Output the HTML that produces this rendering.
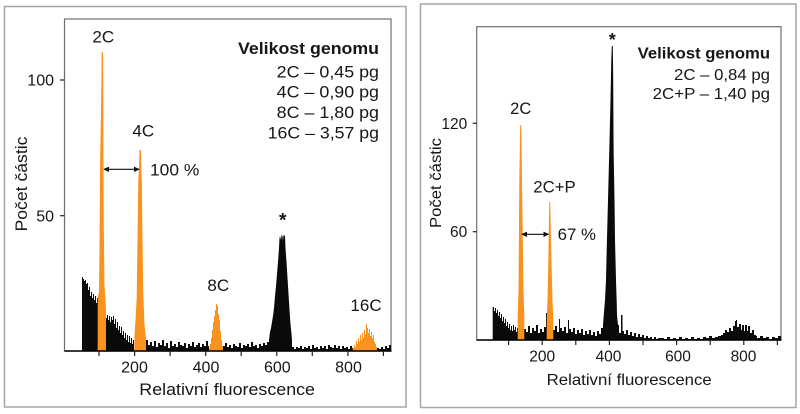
<!DOCTYPE html>
<html>
<head>
<meta charset="utf-8">
<style>
  html, body { margin: 0; padding: 0; background: #ffffff; }
  body { width: 800px; height: 414px; overflow: hidden; }
  svg { display: block; }
  text { font-family: "Liberation Sans", Arial, sans-serif; fill: #161616; }
</style>
</head>
<body>
<svg width="800" height="414" viewBox="0 0 800 414" xmlns="http://www.w3.org/2000/svg">
  <rect x="0" y="0" width="800" height="414" fill="#ffffff"/>

  <!-- ================= LEFT PANEL ================= -->
  <rect x="4.5" y="6.5" width="401.5" height="400.5" fill="none" stroke="#a6a6a6" stroke-width="1.5"/>
  <rect x="64.5" y="19" width="326.5" height="332" fill="none" stroke="#6e6e6e" stroke-width="1.2"/>

  <!-- black histogram -->
  <path fill="#0a0a0a" d="M82,351 V277 H83 V279 H84 V281 H85 V280 H86 V284 H87 V283 H88 V290 H89 V287 H90 V296 H91 V292 H92 V298 H93 V294 H94 V300 H95 V296 H96 V303 H97 V298 H98 V351 H106 V318 H107 V315 H108 V320 H109 V316 H110 V322 H111 V317 H112 V320 H113 V316 H114 V324 H115 V319 H116 V328 H117 V322 H118 V330 H119 V326 H120 V333 H121 V327 H122 V335 H123 V331 H124 V338 H125 V333 H126 V340 H127 V335 H128 V342 H129 V336 H130 V343 H131 V338 H132 V344 H133 V340 H134 V351 H146 V340 H148 V345 H150 V342 H152 V346 H154 V341 H156 V347 H158 V343 H160 V345 H162 V340 H164 V346 H166 V343 H168 V348 H170 V341 H172 V346 H174 V344 H176 V347 H178 V342 H180 V345 H182 V346 H184 V343 H186 V348 H188 V344 H190 V346 H192 V342 H194 V347 H196 V345 H198 V343 H200 V347 H202 V344 H204 V346 H206 V341 H208 V346 H209 V351 H223 V346 H225 V343 H227 V347 H229 V345 H231 V348 H233 V344 H235 V346 H237 V347 H239 V343 H241 V348 H243 V345 H245 V346 H247 V344 H249 V347 H251 V342 H253 V346 H255 V345 H257 V348 H259 V344 H261 V346 H263 V343 H265 V345 H267 V342 H269 V340 L270,332 L271,328 L272,322 L273,316 L274,308 L275,296 L276,286 L277,274 L278,262 L279,248 L279.5,238 L280,236 L281,240 L281.5,235 L282.5,236 L283,241 L283.5,235 L285,236 L285.5,248 L286.5,262 L287.5,278 L288.5,294 L289.5,310 L290.5,324 L291.5,334 L292,340 V347 H294 V349 H296 V347 H298 V348 H300 V346 H302 V349 H304 V347 H306 V348 H308 V346 H310 V349 H312 V345 H314 V348 H316 V347 H318 V349 H320 V346 H322 V348 H324 V346 H326 V349 H328 V345 H330 V347 H332 V348 H334 V345 H336 V348 H338 V346 H340 V349 H342 V346 H344 V348 H346 V347 H348 V349 H350 V346 H352 V348 H353 V351 H377 V348 H379 V349 H381 V347 H383 V349 H385 V346 H387 V348 H389 V345 H391 V351 Z"/>

  <!-- orange peaks -->
  <g fill="#f7931e">
    <path d="M101.7,52 L103,52 L103.3,100 L103.5,170 L103.8,230 L104.5,285 L105.5,300 L106,310 L106,351 L97.7,351 L97.7,298 L99,292 L99.6,240 L100,170 L101.2,100 Z"/>
    <path d="M139.5,150 L141,150 L141.3,168 L141.8,180 L142.5,240 L143.3,295 L144.5,325 L146,338 L146,351 L134.3,351 L134.5,336 L135.5,320 L136.7,298 L137.5,240 L138.3,180 L139,168 Z"/>
    <path d="M209,351 V348 H210 V344 H211 V338 H212 V330 H213 V322 H214 V316 H215 V310 H216 V304 H217 V306 H218 V314 H219 V320 H220 V331 H221 V340 H222 V346 H223 V351 Z"/>
    <path d="M352.7,351 V348 H354 V345 H355 V347 H356 V341 H357 V344 H358 V338 H359 V342 H360 V335 H361 V340 H362 V333 H363 V338 H364 V330 H365 V334 H366 V324 H367 V328 H368 V333 H369 V329 H370 V336 H371 V332 H372 V338 H373 V335 H374 V342 H375 V344 H376 V347 H377 V351 Z"/>
  </g>

  <!-- axes left -->
  <line x1="64.5" y1="351" x2="391.5" y2="351" stroke="#000" stroke-width="1.6"/>
  <g stroke="#222" stroke-width="1.2">
    <line x1="60" y1="80" x2="64.5" y2="80"/>
    <line x1="60" y1="215.7" x2="64.5" y2="215.7"/>
    <line x1="99" y1="351" x2="99" y2="356"/>
    <line x1="134.6" y1="351" x2="134.6" y2="356"/>
    <line x1="170.1" y1="351" x2="170.1" y2="356"/>
    <line x1="205.7" y1="351" x2="205.7" y2="356"/>
    <line x1="241.2" y1="351" x2="241.2" y2="356"/>
    <line x1="276.8" y1="351" x2="276.8" y2="356"/>
    <line x1="312.3" y1="351" x2="312.3" y2="356"/>
    <line x1="347.9" y1="351" x2="347.9" y2="356"/>
    <line x1="383.4" y1="351" x2="383.4" y2="356"/>
  </g>

  <!-- arrow left -->
  <g stroke="#111" stroke-width="1.2">
    <line x1="104" y1="169.3" x2="139" y2="169.3"/>
  </g>
  <polygon points="103.2,169.3 109,166.6 109,172" fill="#111"/>
  <polygon points="139.8,169.3 134,166.6 134,172" fill="#111"/>

  <!-- left texts -->
  <text x="238" y="54" font-size="17" font-weight="bold" textLength="141" lengthAdjust="spacingAndGlyphs">Velikost genomu</text>
  <text x="276.7" y="77.3" font-size="16.5" textLength="102.3" lengthAdjust="spacingAndGlyphs">2C – 0,45 pg</text>
  <text x="276.7" y="97.7" font-size="16.5" textLength="102.3" lengthAdjust="spacingAndGlyphs">4C – 0,90 pg</text>
  <text x="276.7" y="118" font-size="16.5" textLength="102.3" lengthAdjust="spacingAndGlyphs">8C – 1,80 pg</text>
  <text x="267.7" y="138.3" font-size="16.5" textLength="111.3" lengthAdjust="spacingAndGlyphs">16C – 3,57 pg</text>

  <text x="103.3" y="42.3" font-size="17" text-anchor="middle">2C</text>
  <text x="143.3" y="136.7" font-size="17" text-anchor="middle">4C</text>
  <text x="150" y="175.7" font-size="17" textLength="49.3" lengthAdjust="spacingAndGlyphs">100 %</text>
  <text x="218.3" y="291" font-size="17" text-anchor="middle">8C</text>
  <text x="282.7" y="226.5" font-size="19" font-weight="bold" text-anchor="middle">*</text>
  <text x="366" y="311" font-size="17" text-anchor="middle">16C</text>

  <text x="54" y="85.7" font-size="16" text-anchor="end">100</text>
  <text x="54" y="221.4" font-size="16" text-anchor="end">50</text>
  <text x="134.5" y="372.3" font-size="16" text-anchor="middle">200</text>
  <text x="206" y="372.3" font-size="16" text-anchor="middle">400</text>
  <text x="277.3" y="372.3" font-size="16" text-anchor="middle">600</text>
  <text x="348.5" y="372.3" font-size="16" text-anchor="middle">800</text>
  <text x="139.3" y="395" font-size="17" textLength="175.7" lengthAdjust="spacingAndGlyphs">Relativní fluorescence</text>
  <text transform="translate(27,184) rotate(-90)" x="-47.5" y="0" font-size="17" textLength="95" lengthAdjust="spacingAndGlyphs">Počet částic</text>

  <!-- ================= RIGHT PANEL ================= -->
  <rect x="420.5" y="4" width="375.5" height="403.5" fill="none" stroke="#a6a6a6" stroke-width="1.5"/>
  <rect x="476.7" y="26.7" width="304.3" height="313.3" fill="none" stroke="#6e6e6e" stroke-width="1.2"/>

  <path fill="#0a0a0a" d="M492.7,340 V307 H494 V311 H495 V308 H496 V313 H497 V310 H498 V316 H499 V312 H500 V318 H501 V314 H502 V321 H503 V317 H504 V323 H505 V319 H506 V326 H507 V322 H508 V328 H509 V324 H510 V330 H511 V326 H512 V331 H513 V325 H514 V330 H515 V327 H516 V332 H517 V328 H518 V340 H524 V329 H526 V332 H528 V326 H530 V333 H532 V328 H534 V331 H536 V325 H538 V333 H540 V329 H542 V332 H544 V327 H546 V313 H548 V340 H553 V330 H555 V326 H557 V332 H559 V319 H560 V328 H562 V331 H564 V327 H566 V333 H568 V320 H569 V329 H571 V332 H573 V328 H575 V334 H577 V330 H579 V333 H581 V329 H583 V335 H585 V331 H587 V334 H589 V330 H591 V335 H593 V332 H595 V336 H597 V331 H599 V334 H601 V328 H603 V325 L604,312 L605,300 L606,280 L606.7,250 L608,200 L609.3,150 L610.5,100 L611.3,60 L611.8,46 L612.8,46 L613.2,80 L613.6,150 L614.5,200 L615,240 L616,280 L616.8,305 L617,315 L618,325 H619 V333 H621 V315 H622.5 V331 H624 V334 H626 V330 H628 V335 H630 V332 H632 V336 H634 V333 H636 V337 H638 V334 H640 V337 H642 V335 H644 V338 H646 V336 H648 V338 H650 V337 H652 V339 H654 V337 H656 V339 H658 V338 H661 V338 H664 V339 H667 V337 H670 V339 H673 V338 H676 V339 H679 V337 H682 V339 H685 V338 H688 V339 H691 V337 H694 V339 H697 V338 H700 V339 H703 V337 H706 V338 H709 V336 H712 V338 H715 V337 H718 V336 H721 V335 H723 V333 H725 V330 H727 V332 H729 V328 H731 V331 H733 V326 H735 V321 H736 V320 H737 V327 H739 V324 H741 V330 H742 V325 H744 V331 H745 V325 H747 V331 H748 V326 H750 V333 H752 V330 H754 V335 H756 V336 H757 V338 H760 V336 H763 V338 H766 V337 H769 V339 H772 V337 H775 V338 H778 V336 H781 V340 Z"/>

  <g fill="#f7931e">
    <path d="M520.2,125 L521.2,125 L521.6,150 L522,180 L522.8,240 L523.5,290 L524.3,315 L524.3,340 L517.7,340 L517.7,315 L518.5,290 L518.9,240 L519.3,180 L519.8,150 Z"/>
    <path d="M549.3,202 L550.3,202 L550.8,230 L551.7,270 L552.5,300 L553.3,320 L553.3,340 L546.7,340 L546.7,320 L547.5,300 L548.2,270 L548.8,230 Z"/>
  </g>

  <line x1="476.7" y1="340" x2="781.5" y2="340" stroke="#000" stroke-width="1.6"/>
  <g stroke="#222" stroke-width="1.2">
    <line x1="472.7" y1="123.3" x2="476.7" y2="123.3"/>
    <line x1="472.7" y1="231.7" x2="476.7" y2="231.7"/>
    <line x1="508.6" y1="340" x2="508.6" y2="345"/>
    <line x1="542.2" y1="340" x2="542.2" y2="345"/>
    <line x1="575.8" y1="340" x2="575.8" y2="345"/>
    <line x1="609.4" y1="340" x2="609.4" y2="345"/>
    <line x1="643" y1="340" x2="643" y2="345"/>
    <line x1="676.6" y1="340" x2="676.6" y2="345"/>
    <line x1="710.2" y1="340" x2="710.2" y2="345"/>
    <line x1="743.8" y1="340" x2="743.8" y2="345"/>
    <line x1="777.4" y1="340" x2="777.4" y2="345"/>
  </g>

  <line x1="522" y1="234.3" x2="548.5" y2="234.3" stroke="#111" stroke-width="1.2"/>
  <polygon points="521.2,234.3 527,231.6 527,237" fill="#111"/>
  <polygon points="549.3,234.3 543.5,231.6 543.5,237" fill="#111"/>

  <text x="637.7" y="58.3" font-size="16" font-weight="bold" textLength="132.3" lengthAdjust="spacingAndGlyphs">Velikost genomu</text>
  <text x="674" y="80" font-size="16" textLength="96" lengthAdjust="spacingAndGlyphs">2C – 0,84 pg</text>
  <text x="652.7" y="99" font-size="16" textLength="117.3" lengthAdjust="spacingAndGlyphs">2C+P – 1,40 pg</text>

  <text x="520.7" y="114" font-size="16.5" text-anchor="middle">2C</text>
  <text x="533.3" y="192.7" font-size="16.5" textLength="42.4" lengthAdjust="spacingAndGlyphs">2C+P</text>
  <text x="557.7" y="240" font-size="16.5" textLength="38.3" lengthAdjust="spacingAndGlyphs">67 %</text>
  <text x="612.3" y="46" font-size="18" font-weight="bold" text-anchor="middle">*</text>

  <text x="467.3" y="128.8" font-size="15.5" text-anchor="end">120</text>
  <text x="467.3" y="237.2" font-size="15.5" text-anchor="end">60</text>
  <text x="542.2" y="361.7" font-size="15.5" text-anchor="middle">200</text>
  <text x="608.5" y="361.7" font-size="15.5" text-anchor="middle">400</text>
  <text x="678" y="361.7" font-size="15.5" text-anchor="middle">600</text>
  <text x="743.5" y="361.7" font-size="15.5" text-anchor="middle">800</text>
  <text x="546.7" y="385" font-size="16" textLength="165" lengthAdjust="spacingAndGlyphs">Relativní fluorescence</text>
  <text transform="translate(441,183) rotate(-90)" x="-45" y="0" font-size="16" textLength="90" lengthAdjust="spacingAndGlyphs">Počet částic</text>
</svg>
</body>
</html>
